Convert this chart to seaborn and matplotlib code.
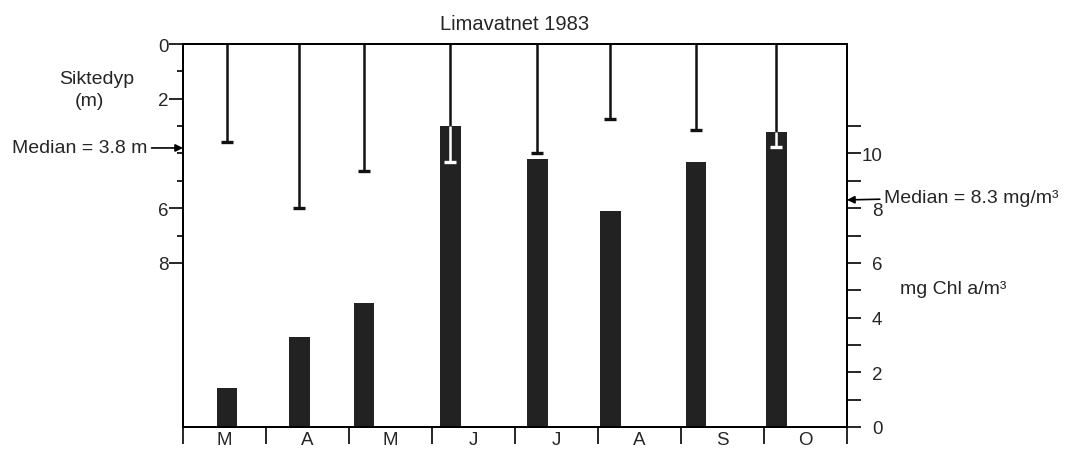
import numpy as np
import pandas as pd
import matplotlib
matplotlib.use("Agg")
import matplotlib.pyplot as plt
import seaborn as sns

# ---------------- data ----------------
title = "Limavatnet 1983"
months = ["M", "A", "M", "J", "J", "A", "S", "O"]
# sampling date, in months counted from the start of March
sample_pos = [0.53, 1.40, 2.18, 3.22, 4.27, 5.15, 6.18, 7.15]
chl = [1.42, 3.28, 4.52, 11.0, 9.8, 7.9, 9.67, 10.8]          # mg Chl a / m3
secchi = [3.6, 6.0, 4.65, 4.3, 4.0, 2.75, 3.15, 3.75]         # Siktedyp (m)
median_secchi = 3.8
median_chl = 8.3
depth_major = [0, 2, 6, 8]
depth_minor = [1, 3, 4, 5, 7]
chl_major = [0, 2, 4, 6, 8, 10]
chl_minor = [1, 3, 5, 7, 9, 11]
y_span = 14

# ---------------- style ----------------
sns.set_style("ticks")
plt.rcParams["font.family"] = ["Liberation Sans", "DejaVu Sans"]
plt.rcParams["axes.linewidth"] = 1.4

W, H = 1073, 452
fig = plt.figure(figsize=(W / 100, H / 100), dpi=100)
L, R, T, B = 183, 847, 45, 428
ax = fig.add_axes([L / W, 1 - B / H, (R - L) / W, (B - T) / H])

bar_w = 0.25
df = pd.DataFrame({"pos": sample_pos, "chl": chl})
sns.barplot(data=df, x="pos", y="chl", native_scale=True,
            width=bar_w / np.min(np.diff(sample_pos)),
            color="#222222", saturation=1, errorbar=None,
            linewidth=0, ax=ax)

# twin axis for Secchi depth (create first: twinx resets the host's ticks)
ax2 = ax.twinx()

ax.set_xlim(0, len(months))
ax.set_ylim(0, y_span)
ax.set_xlabel("")

# x axis: month boundaries as ticks, month names centred between them
ax.set_xticks(np.arange(len(months) + 1))
ax.set_xticklabels([])
ax.set_xticks(np.arange(len(months)) + 0.5, minor=True)
ax.set_xticklabels(months, minor=True)
ax.tick_params(axis="x", which="major", direction="out", length=12, width=1.4,
               bottom=True, top=False)
ax.tick_params(axis="x", which="minor", length=0, labelsize=13.5, pad=3.2)

# right axis: chlorophyll
ax.yaxis.tick_right()
ax.yaxis.set_label_position("right")
ax.set_yticks(chl_major)
ax.set_yticks(chl_minor, minor=True)
ax.tick_params(axis="y", which="both", direction="out", length=10, width=1.4,
               labelsize=13.5, pad=15.5, left=False, right=True,
               labelleft=False, labelright=True)
for t in ax.yaxis.get_major_ticks():
    t.label2.set_horizontalalignment("right")
ax.set_ylabel("mg Chl a/m³", rotation=0, fontsize=14, ha="left", va="center")
ax.yaxis.set_label_coords((900 - L) / (R - L), (B - 290) / (B - T))

# left axis: Secchi depth (inverted)
ax2.set_ylim(y_span, 0)
ax2.yaxis.tick_left()
ax2.yaxis.set_label_position("left")
ax2.set_yticks(depth_major)
ax2.set_yticks(depth_minor, minor=True)
ax2.tick_params(axis="y", which="major", direction="out", length=10, width=1.4,
                labelsize=13.5, pad=0.5, right=False, labelright=False)
ax2.tick_params(axis="y", which="minor", direction="out", length=4, width=1.4,
                right=False)
ax2.set_ylabel("Siktedyp", rotation=0, fontsize=14, ha="center", va="center")
ax2.yaxis.set_label_coords((97 - L) / (R - L), (B - 80) / (B - T))
ax2.text((89 - L) / (R - L), (B - 102) / (B - T), "(m)", transform=ax2.transAxes,
         fontsize=14, ha="center", va="center")

for a in (ax, ax2):
    for s in a.spines.values():
        s.set_visible(True)
        s.set_linewidth(1.4)
        s.set_color("black")

# Secchi depth lines from the surface down to the reading, with a cap
cap_w = 0.145
bar_top_depth = y_span - np.asarray(chl)
for x, d, top in zip(sample_pos, secchi, bar_top_depth):
    if d > top:
        ax2.vlines(x, 0, top, color="#111111", lw=1.8)
        ax2.vlines(x, top, d, color="white", lw=1.8)
        ax2.hlines(d, x - cap_w / 2, x + cap_w / 2, color="white", lw=2.4)
    else:
        ax2.vlines(x, 0, d, color="#111111", lw=1.8)
        ax2.hlines(d, x - cap_w / 2, x + cap_w / 2, color="#111111", lw=2.4)

# median annotations
arrow = dict(arrowstyle="-|>", color="black", lw=1.2, shrinkA=1, shrinkB=0,
             mutation_scale=11)
ax2.annotate(f"Median = {median_secchi} m", xy=(0, median_secchi),
             xycoords=("axes fraction", "data"), xytext=(-26, 0),
             textcoords="offset points", ha="right", va="center",
             fontsize=14, arrowprops=arrow)
ax.annotate(f"Median = {median_chl} mg/m³", xy=(1, median_chl),
            xycoords=("axes fraction", "data"), xytext=(27, 2),
            textcoords="offset points", ha="left", va="center",
            fontsize=14, arrowprops=arrow)

ax.set_title(title, fontsize=14.5, pad=10.5)

fig.savefig("out.png", dpi=100)
